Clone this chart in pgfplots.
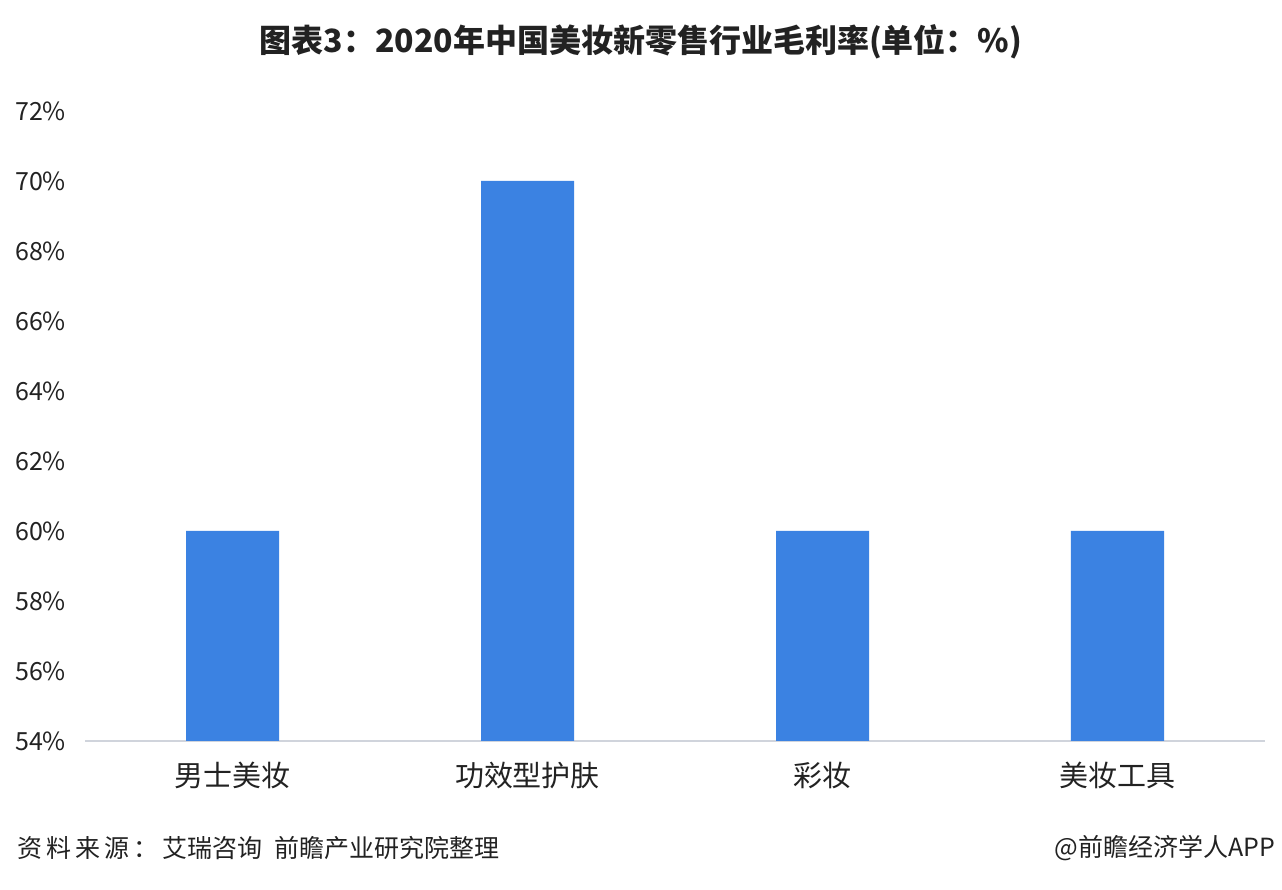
\documentclass[border=0pt]{standalone}
\usepackage{fontspec}
\setmainfont{Noto Sans CJK SC}
\usepackage{pgfplots}
\pgfplotsset{compat=1.18}
\definecolor{barblue}{HTML}{3B82E2}
\definecolor{axisgray}{HTML}{D0D4DC}
\definecolor{txt}{HTML}{222222}

\begin{document}
\begin{tikzpicture}
% page frame 641 x 445 pt (1282 x 890 px at 0.5)
\path[use as bounding box] (0pt,0pt) rectangle (641pt,445pt);

\begin{axis}[
    at={(42.5pt,74.5pt)}, anchor=south west,
    scale only axis,
    width=590pt, height=315pt,
    ybar, bar width=46.5pt,
    xmin=-0.5, xmax=3.5,
    ymin=54, ymax=72,
    ytick={54,56,...,72},
    xtick=data,
    xticklabels={男士美妆,功效型护肤,彩妆,美妆工具},
    axis lines*=left,
    axis line style={-},
    x axis line style={draw=axisgray, line width=0.8pt},
    y axis line style={draw=none},
    major tick length=0pt,
    yticklabel={\pgfmathprintnumber{\tick}\%},
    /pgf/number format/assume math mode=true,
    ticklabel style={font=\fontsize{12.5}{14}\selectfont, text=txt},
    xticklabel style={font=\fontsize{14.5}{16}\selectfont, yshift=-7pt},
    yticklabel style={xshift=-6pt},
    clip=false,
]
\addplot[fill=barblue, draw=none] coordinates {(0,60) (1,70) (2,60) (3,60)};
\end{axis}

\node[font=\bfseries\fontsize{16}{18}\selectfont, text=txt] at (320.5pt,424pt)
  {图表3：2020年中国美妆新零售行业毛利率(单位：\%)};
\node[anchor=west, font=\fontsize{12.5}{14}\selectfont, text=txt] at (5pt,21pt)
  {资\,料\,来\,源\,：\,艾瑞咨询\hspace{6pt}前瞻产业研究院整理};
\node[anchor=east, font=\fontsize{12.5}{14}\selectfont, text=txt] at (641pt,21pt)
  {@前瞻经济学人APP};
\end{tikzpicture}
\end{document}
